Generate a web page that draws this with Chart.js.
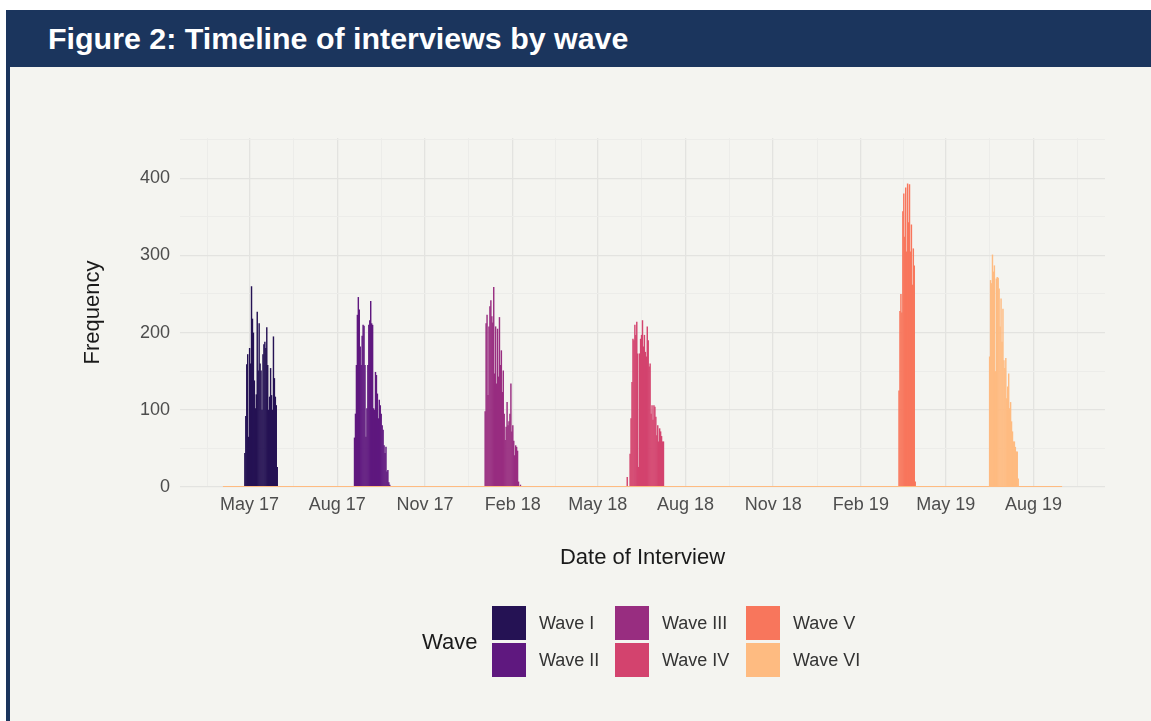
<!DOCTYPE html>
<html>
<head>
<meta charset="utf-8">
<title>Figure 2: Timeline of interviews by wave</title>
<script src="https://cdn.jsdelivr.net/npm/chart.js@4.4.1/dist/chart.umd.min.js"></script>
<style>
  html, body { margin: 0; padding: 0; background: #ffffff; }
  body { width: 1151px; height: 721px; position: relative; overflow: hidden;
         font-family: "Liberation Sans", Arial, Helvetica, sans-serif; }
  .frame { position: absolute; left: 6px; top: 10px; right: 0; bottom: 0;
           background: #f4f4f0; border-left: 4px solid #1b355d; }
  .header { position: absolute; left: 6px; top: 10px; right: 0; height: 57px; background: #1b355d; }
  .header h1 { margin: 0; position: absolute; left: 42px; top: 0; line-height: 57px;
               font-size: 30.4px; font-weight: bold; color: #ffffff; white-space: nowrap; }
  #timeline { position: absolute; left: 0; top: 0; }
  .legend-title { position: absolute; left: 422px; top: 628px; font-size: 22px; line-height: 28px; color: #1a1a1a; }
  .legend-swatch { position: absolute; width: 34px; height: 34px; }
  .legend-label { position: absolute; font-size: 18px; line-height: 34px; color: #333333; white-space: nowrap; }
</style>
</head>
<body>
<div class="frame"></div>
<div class="header"><h1>Figure 2: Timeline of interviews by wave</h1></div>
<canvas id="timeline" width="1151" height="721"></canvas>
<div id="legend"><div class="legend-title">Wave</div></div>

<script>
// --- data (daily interview counts per wave) ---
const waveNames = ['Wave I', 'Wave II', 'Wave III', 'Wave IV', 'Wave V', 'Wave VI'];
const waveColors = ['#251254', '#5f187f', '#982d80', '#d3436e', '#f8765c', '#febb81'];
const waveStartDates = ['2017-04-26', '2017-08-19', '2018-01-03', '2018-06-01', '2019-03-13', '2019-06-16'];

const waveI = [44, 92, 159, 172, 65, 180, 160, 260, 218, 200, 138, 102, 120, 227, 151, 212, 160, 151, 100,
               172, 185, 188, 180, 207, 158, 100, 117, 154, 119, 100, 195, 141, 117, 106, 26];
const waveII = [64, 95, 158, 223, 246, 230, 182, 158, 196, 210, 209, 158, 65, 102, 158, 210, 216, 241, 212,
                210, 102, 100, 149, 145, 121, 89, 113, 106, 95, 80, 74, 54, 44, 52, 20, 22, 6, 3];
const waveIII = [98, 212, 223, 119, 208, 234, 242, 221, 213, 259, 147, 208, 134, 205, 143, 220, 158, 177,
                 123, 151, 95, 61, 78, 110, 80, 85, 95, 134, 72, 80, 60, 41, 54, 52, 47, 7, 0, 3];
const waveIV = [13, 0, 0, 43, 89, 136, 192, 190, 210, 197, 214, 173, 26, 173, 192, 197, 216, 182, 197, 175,
                169, 208, 190, 156, 160, 95, 106, 87, 106, 104, 91, 67, 80, 59, 76, 72, 66, 59, 59];
const waveV = [125, 228, 250, 226, 357, 380, 324, 388, 305, 393, 343, 392, 305, 340, 262, 309, 287, 7];
const waveVI = [169, 268, 264, 301, 279, 287, 150, 270, 272, 271, 257, 208, 244, 188, 231, 164, 154, 167,
                115, 130, 147, 102, 110, 85, 72, 59, 59, 52, 46, 46, 11];
const waveValues = [waveI, waveII, waveIII, waveIV, waveV, waveVI];

// zero-count baseline drawn along the whole fieldwork period
const baselineDates = ['2017-04-03', '2019-08-31'];
const baselineValues = [0, 0];

// axis breaks
const xRange = ['2017-02-17', '2019-10-15'];
const xBreakDates = ['2017-02-01', '2017-05-01', '2017-08-01', '2017-11-01', '2018-02-01', '2018-05-01',
                     '2018-08-01', '2018-11-01', '2019-02-01', '2019-05-01', '2019-08-01', '2019-11-01'];
const xBreakLabels = ['Feb 17', 'May 17', 'Aug 17', 'Nov 17', 'Feb 18', 'May 18',
                      'Aug 18', 'Nov 18', 'Feb 19', 'May 19', 'Aug 19', 'Nov 19'];
const yMajorTicks = [0, 100, 200, 300, 400];
const yMinorTicks = [50, 150, 250, 350, 450];
const yRange = [0, 452];

const DAY_MS = 86400000;
const toDay = s => Date.parse(s) / DAY_MS;

const xMin = toDay(xRange[0]);
const xMax = toDay(xRange[1]);
const majorDays = xBreakDates.map(toDay);
const labelByDay = new Map(majorDays.map((d, i) => [d, xBreakLabels[i]]));
const minorDays = majorDays.slice(1).map((d, i) => (d + majorDays[i]) / 2);
const xTickDays = majorDays.concat(minorDays).filter(d => d >= xMin && d <= xMax).sort((a, b) => a - b);
const yTickValues = yMajorTicks.concat(yMinorTicks).sort((a, b) => a - b);

const majorGrid = '#e3e3e0';
const minorGrid = '#ecece9';

const datasets = waveNames.map((name, i) => {
    const start = toDay(waveStartDates[i]);
    return {
        type: 'bar',
        label: name,
        data: waveValues[i].map((v, j) => ({ x: start + j, y: v })),
        backgroundColor: waveColors[i],
        borderWidth: 0,
        inflateAmount: 0,
        grouped: false,
        barPercentage: 1.5,   // overlap neighbours a little so sub-pixel bars don't leave seams
        categoryPercentage: 1
    };
});

datasets.push({
    type: 'line',
    label: 'baseline',
    data: baselineDates.map((d, i) => ({ x: toDay(d), y: baselineValues[i] })),
    borderColor: waveColors[5],
    borderWidth: 2,
    pointRadius: 0,
    fill: false,
    order: -1
});

Chart.defaults.font.family = '"Liberation Sans", Arial, Helvetica, sans-serif';

new Chart(document.getElementById('timeline'), {
    type: 'bar',
    data: { datasets: datasets },
    options: {
        responsive: false,
        animation: false,
        devicePixelRatio: 1,
        layout: { padding: { left: 80, top: 138, right: 46, bottom: 150 } },
        plugins: { legend: { display: false }, tooltip: { enabled: false } },
        scales: {
            x: {
                type: 'linear',
                min: xMin,
                max: xMax,
                offset: false,
                border: { display: false },
                grid: {
                    offset: false,
                    drawTicks: false,
                    color: ctx => labelByDay.has(ctx.tick && ctx.tick.value) ? majorGrid : minorGrid,
                    lineWidth: ctx => labelByDay.has(ctx.tick && ctx.tick.value) ? 1.3 : 1
                },
                afterBuildTicks: scale => { scale.ticks = xTickDays.map(v => ({ value: v })); },
                afterFit: scale => { scale.height = 84; },
                ticks: {
                    autoSkip: false,
                    maxRotation: 0,
                    minRotation: 0,
                    padding: 7,
                    color: '#4d4d4d',
                    font: { size: 18 },
                    callback: value => labelByDay.get(value) || ''
                },
                title: {
                    display: true,
                    text: 'Date of Interview',
                    color: '#1a1a1a',
                    font: { size: 22 },
                    padding: 0
                }
            },
            y: {
                min: yRange[0],
                max: yRange[1],
                border: { display: false },
                grid: {
                    drawTicks: false,
                    color: ctx => yMajorTicks.includes(ctx.tick && ctx.tick.value) ? majorGrid : minorGrid,
                    lineWidth: ctx => yMajorTicks.includes(ctx.tick && ctx.tick.value) ? 1.3 : 1
                },
                afterBuildTicks: scale => { scale.ticks = yTickValues.map(v => ({ value: v })); },
                afterFit: scale => { scale.width = 100; },
                ticks: {
                    padding: 10,
                    color: '#4d4d4d',
                    font: { size: 18 },
                    callback: value => yMajorTicks.includes(value) ? String(value) : ''
                },
                title: {
                    display: true,
                    text: 'Frequency',
                    color: '#1a1a1a',
                    font: { size: 22 },
                    padding: 0
                }
            }
        }
    }
});

// legend: two rows, filled column by column, title on the left
const legendBox = document.getElementById('legend');
const colLeft = [492, 615, 746];
const rowTop = [606, 643];
waveNames.forEach((name, i) => {
    const col = Math.floor(i / 2), row = i % 2;
    const sw = document.createElement('div');
    sw.className = 'legend-swatch';
    sw.style.left = colLeft[col] + 'px';
    sw.style.top = rowTop[row] + 'px';
    sw.style.background = waveColors[i];
    legendBox.appendChild(sw);
    const lab = document.createElement('div');
    lab.className = 'legend-label';
    lab.style.left = (colLeft[col] + 47) + 'px';
    lab.style.top = rowTop[row] + 'px';
    lab.textContent = name;
    legendBox.appendChild(lab);
});
</script>
</body>
</html>
